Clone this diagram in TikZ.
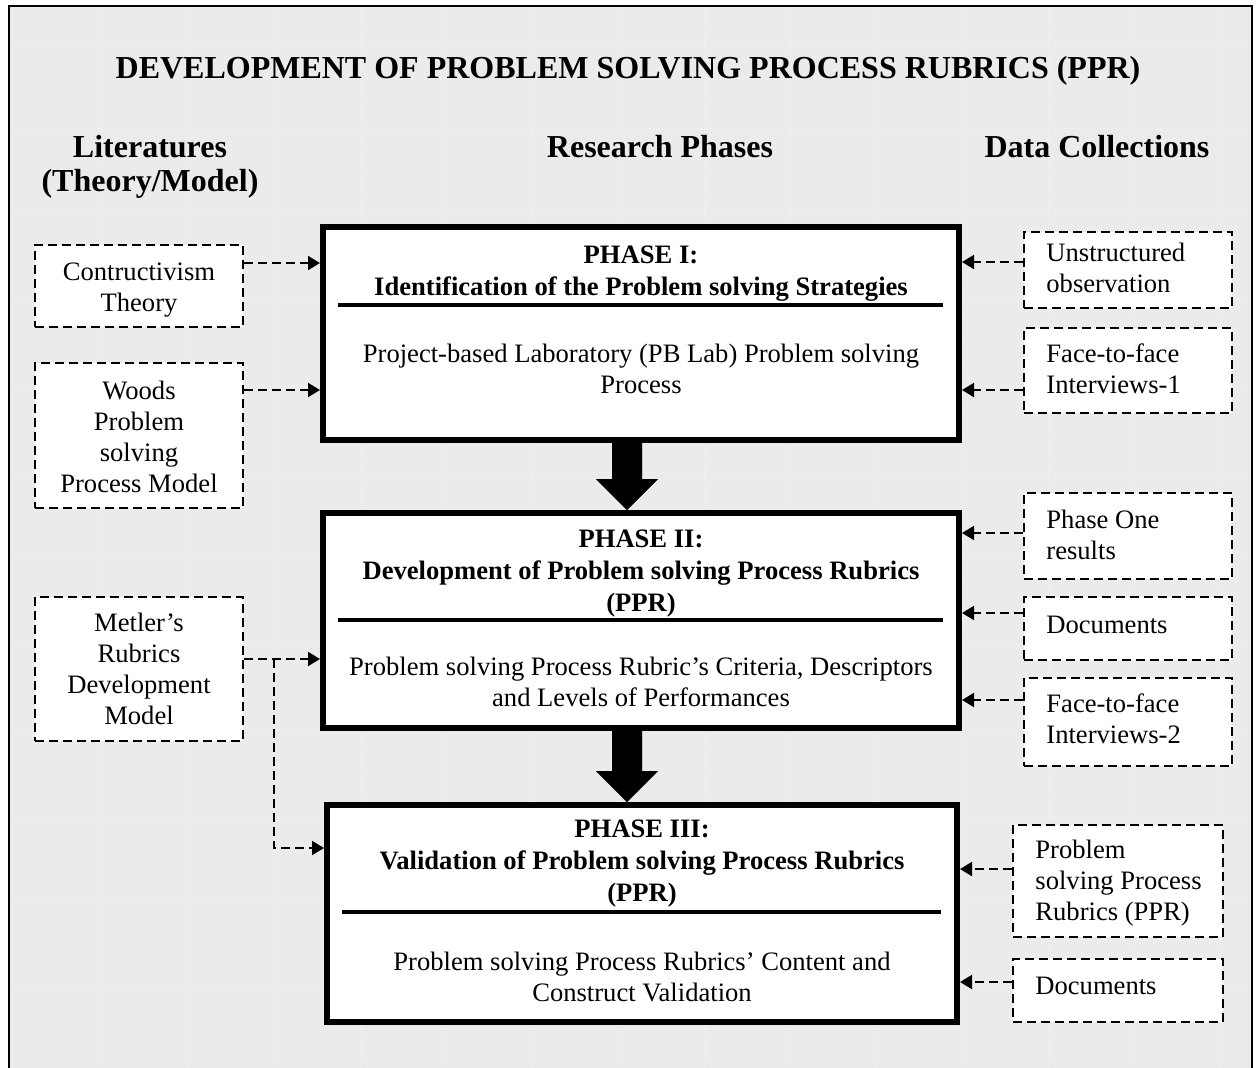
\documentclass[tikz,border=0pt]{standalone}
\usepackage{fontspec}
\setmainfont{Liberation Serif}
\usetikzlibrary{arrows.meta,calc}

\definecolor{panel}{HTML}{EBEBEB}
\definecolor{gridtone}{HTML}{F4F4F4}
\definecolor{shadowtone}{HTML}{8C8C8C}

% thick block arrow from the bottom of one phase box to the top of the next
\newcommand\blockarrow[2]{%
  \fill[shadowtone, xshift=1.3pt, yshift=-1.3pt]
    let \p1=(#1.south -| ax), \p2=(#2.north -| ax) in
    (\x1-7.5pt,\y1) -- (\x1+7.5pt,\y1) -- (\x1+7.5pt,\y2+15.5pt) --
    (\x1+15.5pt,\y2+15.5pt) -- (\x2,\y2) -- (\x1-15.5pt,\y2+15.5pt) --
    (\x1-7.5pt,\y2+15.5pt) -- cycle;
  \fill[black]
    let \p1=(#1.south -| ax), \p2=(#2.north -| ax) in
    (\x1-7.5pt,\y1) -- (\x1+7.5pt,\y1) -- (\x1+7.5pt,\y2+15.5pt) --
    (\x1+15.5pt,\y2+15.5pt) -- (\x2,\y2) -- (\x1-15.5pt,\y2+15.5pt) --
    (\x1-7.5pt,\y2+15.5pt) -- cycle;}

\begin{document}
\begin{tikzpicture}[x=0.5pt,y=-0.5pt,
  body/.style={font=\fontsize{13.3pt}{15.5pt}\selectfont},
  phase/.style={draw, line width=3pt, fill=white, inner sep=0pt},
  phasehead/.style={font=\bfseries\fontsize{13.3pt}{16pt}\selectfont, align=center, inner sep=0pt, anchor=base},
  phasebody/.style={body, align=center, inner sep=0pt, anchor=base},
  rule/.style={line width=2pt},
  source/.style={draw, fill=white, line width=1pt, dash pattern=on 4.5pt off 2.5pt, inner sep=0pt},
  littext/.style={body, align=center, inner sep=0pt, anchor=base},
  datatext/.style={body, align=left, inner sep=0pt, anchor=base west},
  link/.style={line width=1pt, dash pattern=on 4.5pt off 2.5pt,
    -{Triangle[length=6pt,width=7pt]}},
  colhead/.style={font=\bfseries\fontsize{16pt}{17pt}\selectfont, align=center, inner sep=0pt, anchor=base},
  gridline/.style={gridtone, line width=0.5pt, densely dotted}
]
\useasboundingbox (0,0) rectangle (1258,1067);
\clip (0,0) rectangle (1258,1067);

% panel with its faint grid
\fill[panel] (9,6) rectangle (1252,1090);
\foreach \gx in {102,188,...,1250} \draw[gridline] (\gx,8) -- (\gx,1067);
\foreach \gy in {42,128,...,1067} \draw[gridline] (11,\gy) -- (1250,\gy);
\draw[line width=1.4pt] (9,1090) -- (9,6) -- (1252,6) -- (1252,1090);

% titles
\node (title) [font=\bfseries\fontsize{16pt}{19pt}\selectfont, inner sep=0pt, anchor=base]
  at (628,78) {DEVELOPMENT OF PROBLEM SOLVING PROCESS RUBRICS (PPR)};
\node (hlit) [colhead] at (150,191) {Literatures\\(Theory/Model)};
\node (hres) [colhead] at (660,157) {Research Phases};
\node (hdat) [colhead] at (1097,157) {Data Collections};

% research phases
\node (p1) [phase, minimum width=318pt, minimum height=106.5pt] at (641,333.5) {};
\node (p2) [phase, minimum width=318pt, minimum height=107.5pt] at (641,620.5) {};
\node (p3) [phase, minimum width=315pt, minimum height=108.5pt] at (642,913.5) {};

\node (p1h) [phasehead] at (641,295) {PHASE I:\\Identification of the Problem solving Strategies};
\node (p1b) [phasebody] at (641,393) {Project-based Laboratory (PB Lab) Problem solving\\Process};
\node (p2h) [phasehead] at (641,611) {PHASE II:\\Development of Problem solving Process Rubrics\\(PPR)};
\node (p2b) [phasebody] at (641,706) {Problem solving Process Rubric’s Criteria, Descriptors\\and Levels of Performances};
\node (p3h) [phasehead] at (642,901) {PHASE III:\\Validation of Problem solving Process Rubrics\\(PPR)};
\node (p3b) [phasebody] at (642,1001) {Problem solving Process Rubrics’ Content and\\Construct Validation};

% separators between heading and description
\coordinate (r1) at (0,305);
\coordinate (r2) at (0,620);
\coordinate (r3) at (0,912);
\draw[rule] ([xshift=9pt]p1.west |- r1) -- ([xshift=-9.5pt]p1.east |- r1);
\draw[rule] ([xshift=9pt]p2.west |- r2) -- ([xshift=-9.5pt]p2.east |- r2);
\draw[rule] ([xshift=9pt]p3.west |- r3) -- ([xshift=-9.5pt]p3.east |- r3);

% block arrows between phases
\coordinate (ax) at (627,0);
\blockarrow{p1}{p2}
\blockarrow{p2}{p3}

% literature sources
\node (c1) [source, minimum width=104pt, minimum height=41pt] at (139,286) {};
\node (c2) [source, minimum width=104pt, minimum height=72.5pt] at (139,435.5) {};
\node (c3) [source, minimum width=104pt, minimum height=72pt] at (139,669) {};
\node (c1t) [littext] at (139,311) {Contructivism\\Theory};
\node (c2t) [littext] at (139,492) {Woods\\Problem\\solving\\Process Model};
\node (c3t) [littext] at (139,724) {Metler’s\\Rubrics\\Development\\Model};

% data collection sources
\node (d1) [source, minimum width=104pt, minimum height=38pt] at (1128,270) {};
\node (d2) [source, minimum width=104pt, minimum height=42.5pt] at (1128,370.5) {};
\node (d3) [source, minimum width=104pt, minimum height=43pt] at (1128,536) {};
\node (d4) [source, minimum width=104pt, minimum height=31.5pt] at (1128,628.5) {};
\node (d5) [source, minimum width=104pt, minimum height=44pt] at (1128,722) {};
\node (d6) [source, minimum width=105pt, minimum height=56pt] at (1118,881) {};
\node (d7) [source, minimum width=105pt, minimum height=31.5pt] at (1118,990.5) {};
\node (d1t) [datatext] at (1046,292) {Unstructured\\observation};
\node (d2t) [datatext] at (1046,393) {Face-to-face\\Interviews-1};
\node (d3t) [datatext] at (1046,559) {Phase One\\results};
\node (d4t) [datatext] at (1046,633) {Documents};
\node (d5t) [datatext] at (1046,743) {Face-to-face\\Interviews-2};
\node (d6t) [datatext] at (1035,920) {Problem\\solving Process\\Rubrics (PPR)};
\node (d7t) [datatext] at (1035,994) {Documents};

% connector levels
\coordinate (yc1) at (0,263);
\coordinate (yc2) at (0,390);
\coordinate (yc3) at (0,659);
\coordinate (yc4) at (0,848);
\coordinate (bx) at (274,0);
\coordinate (yd1) at (0,262);
\coordinate (yd2) at (0,390);
\coordinate (yd3) at (0,533);
\coordinate (yd4) at (0,613);
\coordinate (yd5) at (0,700);
\coordinate (yd6) at (0,869);
\coordinate (yd7) at (0,982);

% literature feeding the phases
\draw[link] (c1.east |- yc1) -- (p1.west |- yc1);
\draw[link] (c2.east |- yc2) -- (p1.west |- yc2);
\draw[link] (c3.east |- yc3) -- (p2.west |- yc3);
\draw[link] (bx |- yc3) -- (bx |- yc4) -- (p3.west |- yc4);

% data collections feeding the phases
\draw[link] (d1.west |- yd1) -- (p1.east |- yd1);
\draw[link] (d2.west |- yd2) -- (p1.east |- yd2);
\draw[link] (d3.west |- yd3) -- (p2.east |- yd3);
\draw[link] (d4.west |- yd4) -- (p2.east |- yd4);
\draw[link] (d5.west |- yd5) -- (p2.east |- yd5);
\draw[link] (d6.west |- yd6) -- (p3.east |- yd6);
\draw[link] (d7.west |- yd7) -- (p3.east |- yd7);
\end{tikzpicture}
\end{document}
